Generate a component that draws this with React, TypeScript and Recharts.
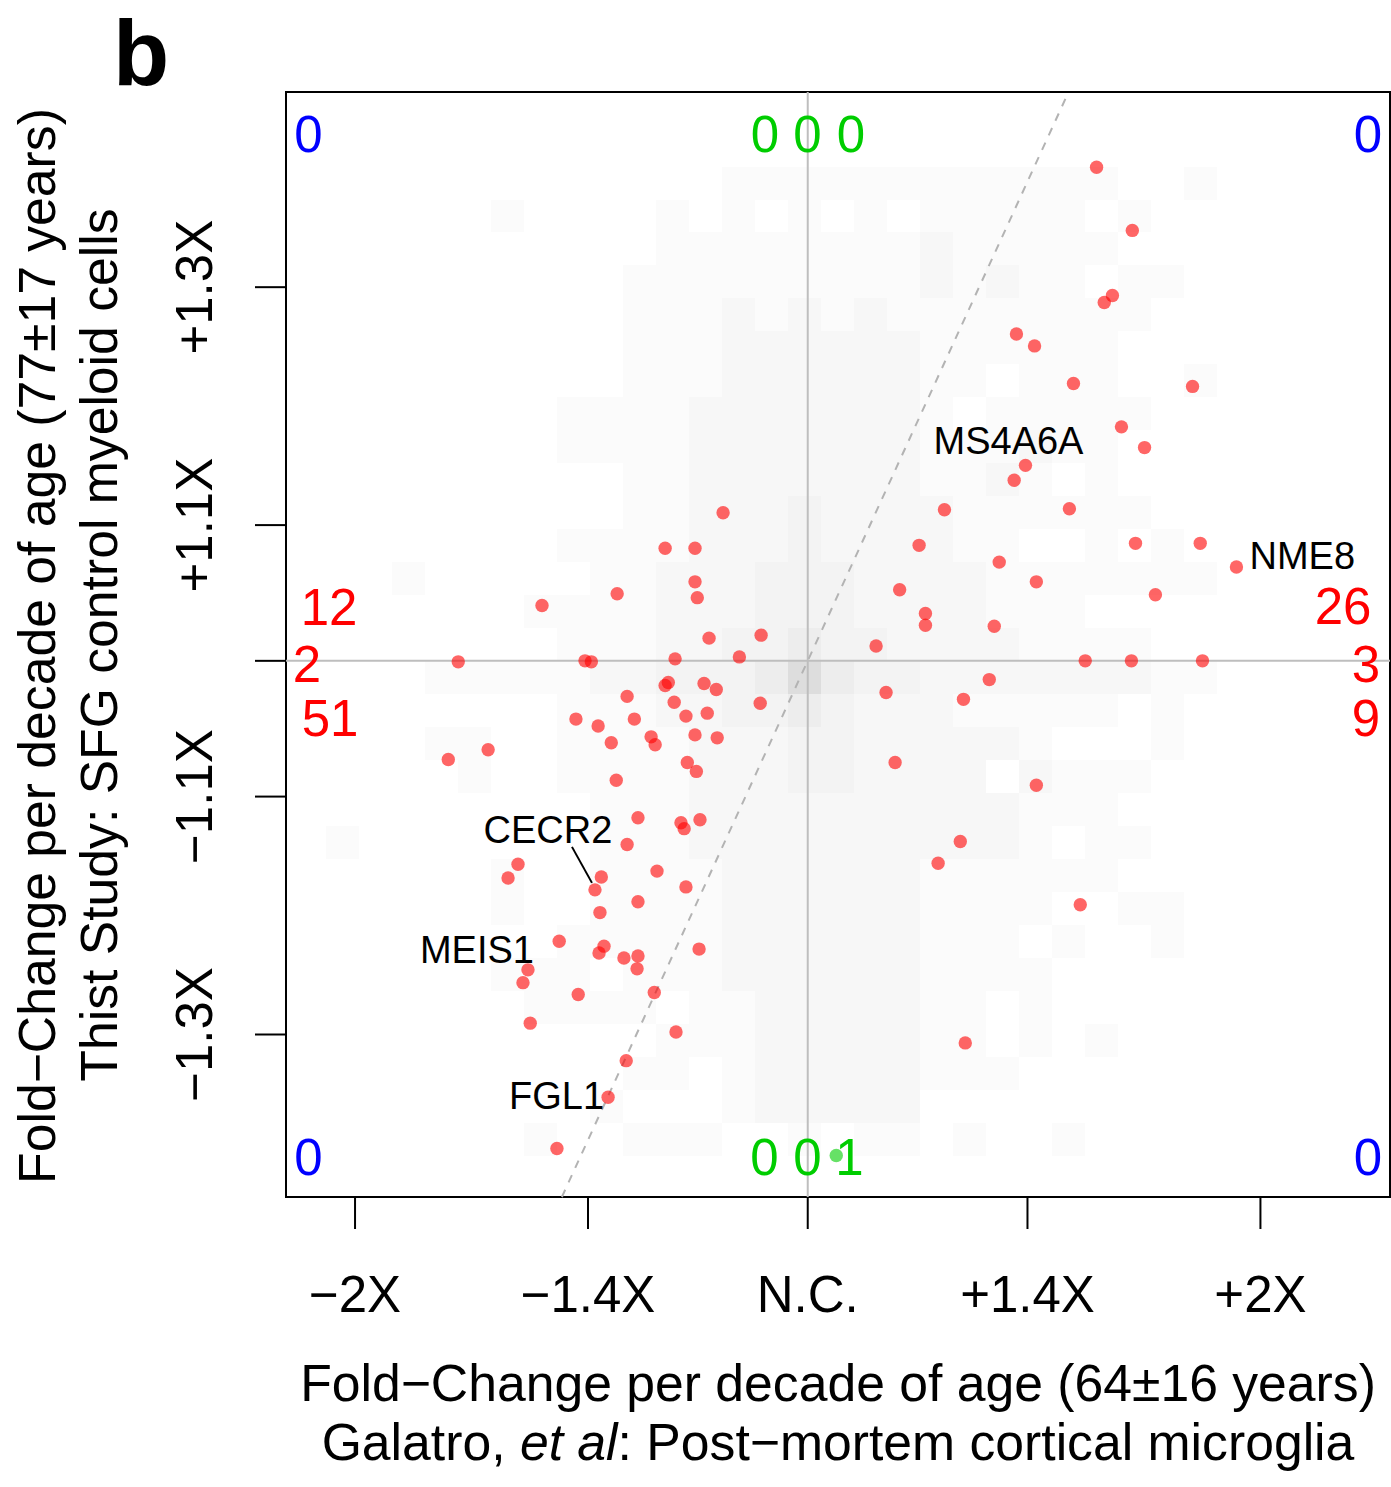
import { ScatterChart, Scatter, XAxis, YAxis, ReferenceArea, ReferenceLine } from 'recharts'

const FONT = '"Liberation Sans", Arial, Helvetica, sans-serif'

// both axes are log2 fold-change per decade of age
const X_DOMAIN: [number, number] = [-1.1525, 1.2862]
const Y_DOMAIN: [number, number] = [-0.5431, 0.5762]
const X_TICKS = [-1, -0.4854, 0, 0.4854, 1]
const X_TICK_LABELS = ['−2X', '−1.4X', 'N.C.', '+1.4X', '+2X']
const Y_TICKS = [0.3785, 0.1375, 0, -0.1375, -0.3785]
const Y_TICK_LABELS = ['+1.3X', '+1.1X', '', '−1.1X', '−1.3X']

// [Galatro et al, this study]
const UP_IN_GALATRO: [number, number][] = [
  [0.638, 0.5], [0.717, 0.436], [0.673, 0.37], [0.655, 0.363], [0.461, 0.331], [0.501, 0.319],
  [0.587, 0.281], [0.85, 0.278], [0.693, 0.237], [0.744, 0.216], [0.481, 0.198], [0.456, 0.183],
  [0.302, 0.153], [0.578, 0.154], [0.246, 0.117], [0.724, 0.119], [0.867, 0.119], [0.947, 0.095],
  [0.423, 0.1], [0.505, 0.08], [0.203, 0.072], [0.768, 0.067], [0.26, 0.048], [0.26, 0.036],
  [0.412, 0.035], [0.151, 0.015], [0.613, 0], [0.715, 0], [0.872, 0], [0.401, -0.019],
  [0.173, -0.032], [0.344, -0.039], [0.193, -0.103], [0.505, -0.126], [0.337, -0.183],
  [0.288, -0.205], [0.602, -0.247], [0.348, -0.387],
]

const DOWN_IN_GALATRO: [number, number][] = [
  [-0.187, 0.15], [-0.315, 0.114], [-0.249, 0.114], [-0.249, 0.08], [-0.244, 0.064], [-0.421, 0.068],
  [-0.587, 0.056], [-0.218, 0.023], [-0.103, 0.026], [-0.151, 0.004], [-0.293, 0.002], [-0.492, 0],
  [-0.478, -0.001], [-0.772, -0.001], [-0.308, -0.022], [-0.315, -0.025], [-0.229, -0.023],
  [-0.202, -0.029], [-0.399, -0.036], [-0.295, -0.042], [-0.105, -0.043], [-0.269, -0.056],
  [-0.222, -0.053], [-0.512, -0.059], [-0.463, -0.066], [-0.383, -0.059], [-0.249, -0.075],
  [-0.2, -0.078], [-0.434, -0.083], [-0.346, -0.077], [-0.337, -0.085], [-0.706, -0.09],
  [-0.794, -0.1], [-0.266, -0.103], [-0.246, -0.112], [-0.423, -0.121], [-0.375, -0.159],
  [-0.28, -0.164], [-0.273, -0.17], [-0.238, -0.161], [-0.399, -0.186], [-0.64, -0.206],
  [-0.333, -0.213], [-0.662, -0.22], [-0.456, -0.219], [-0.47, -0.232], [-0.269, -0.229],
  [-0.375, -0.244], [-0.459, -0.255], [-0.549, -0.284], [-0.45, -0.289], [-0.461, -0.296],
  [-0.406, -0.301], [-0.375, -0.299], [-0.377, -0.312], [-0.24, -0.292], [-0.618, -0.313],
  [-0.629, -0.326], [-0.507, -0.338], [-0.339, -0.336], [-0.613, -0.367], [-0.291, -0.376],
  [-0.401, -0.405], [-0.441, -0.442], [-0.554, -0.494],
]

const NC_IN_GALATRO: [number, number][] = [[0.063, -0.501]]

const LABELLED = [
  { gene: 'MS4A6A', x: 0.481, y: 0.198 },
  { gene: 'NME8', x: 0.947, y: 0.095 },
  { gene: 'CECR2', x: -0.47, y: -0.232 },
  { gene: 'MEIS1', x: -0.618, y: -0.313 },
  { gene: 'FGL1', x: -0.441, y: -0.442 },
]

// gene counts per region
const TOP_CORNERS = ['0', '0']
const TOP_MIDDLE = ['0', '0', '0']
const BOTTOM_CORNERS = ['0', '0']
const BOTTOM_MIDDLE = ['0', '0', '1']
const LEFT_COUNTS = ['12', '2', '51']
const RIGHT_COUNTS = ['26', '3', '9']

// background 2D histogram of all genes, shade level per bin (top row first)
const DENSITY = [
  '0000000000001111111111110010',
  '0000010000101010101111101000',
  '0000000000111111112111110000',
  '0000000001111111112121101100',
  '0000000001112121211111111000',
  '0000000001112222221111110000',
  '0000000001112222221101110010',
  '0000000111122222221011111000',
  '0000000111122222221112110000',
  '0000000001122222221121010000',
  '0000000001122232222111111000',
  '0000000111122232222110010100',
  '0010000011222333222211111110',
  '0000001111222333222211100000',
  '0000000111223343322221111000',
  '0001111122333454332222222110',
  '0000000111223343222111110100',
  '0001100111122233222221000100',
  '0000100111122233222202111000',
  '0000000011122222222221110000',
  '1000000011122222222221011000',
  '0000010011112222221111110000',
  '0000010011112222221111001100',
  '0000000111112222221110100100',
  '0000011101112222221111000000',
  '0000001111011222221101000000',
  '0000000000111222221101010000',
  '0000000001101222221110000000',
  '0000000010001222220000000000',
  '0000001001110010110100100000',
]
const BIN_X0 = -1.0641
const BIN_DX = 0.0729
const BIN_Y0 = 0.5007
const BIN_DY = 0.0334
const SHADES = ['none', '#fbfbfb', '#f7f7f7', '#f3f3f3', '#ededed', '#dddddd']

const LABEL_STYLE: Record<string, { dx: number; dy: number; anchor: 'start' | 'middle' | 'end' }> = {
  MS4A6A: { dx: -17, dy: -11, anchor: 'middle' },
  NME8: { dx: 13, dy: 2, anchor: 'start' },
  CECR2: { dx: -47, dy: -47, anchor: 'middle' },
  MEIS1: { dx: 6, dy: -7, anchor: 'end' },
  FGL1: { dx: -4, dy: 12, anchor: 'end' },
}

const toPoints = (arr: [number, number][]) => arr.map(([x, y]) => ({ x, y }))

function XTick({ x, y, payload }: any) {
  const label = X_TICK_LABELS[X_TICKS.indexOf(payload.value)]
  return (
    <text x={x} y={y + 83} textAnchor="middle" fontSize={51} fontFamily={FONT} fill="#000">
      {label}
    </text>
  )
}

function YTick({ x, y, payload }: any) {
  const label = Y_TICK_LABELS[Y_TICKS.indexOf(payload.value)]
  const bx = x - 43
  return (
    <text x={bx} y={y} transform={`rotate(-90 ${bx} ${y})`} textAnchor="middle" fontSize={51} fontFamily={FONT} fill="#000">
      {label}
    </text>
  )
}

const dot = (color: string) => (p: any) => <circle cx={p.cx} cy={p.cy} r={6.7} fill={color} fillOpacity={0.6} />

function GeneLabel(p: any) {
  const s = LABEL_STYLE[p.payload.gene]
  return (
    <g>
      {p.payload.gene === 'CECR2' && (
        <line x1={p.cx - 23} y1={p.cy - 43} x2={p.cx - 3} y2={p.cy - 7} stroke="#000" strokeWidth={2} />
      )}
      <text x={p.cx + s.dx} y={p.cy + s.dy} textAnchor={s.anchor} fontSize={38} fontFamily={FONT} fill="#000">
        {p.payload.gene}
      </text>
    </g>
  )
}

export default function App() {
  const cells: any[] = []
  DENSITY.forEach((row, j) => {
    row.split('').forEach((ch, i) => {
      const lvl = Number(ch)
      if (!lvl) return
      const x1 = BIN_X0 + i * BIN_DX
      const y2 = BIN_Y0 - j * BIN_DY
      cells.push(
        <ReferenceArea
          key={`c${j}-${i}`}
          x1={x1}
          x2={x1 + BIN_DX}
          y1={y2 - BIN_DY}
          y2={y2}
          fill={SHADES[lvl]}
          fillOpacity={1}
          stroke="none"
          shapeRendering="crispEdges"
          ifOverflow="hidden"
        />,
      )
    })
  })

  const txt = { fontFamily: FONT, fontSize: 51 }
  const title = { fontFamily: FONT, fontSize: 51.7 }

  return (
    <div style={{ position: 'absolute', left: 0, top: 0, width: 1391, height: 1487, background: '#fff' }}>
      <ScatterChart width={1391} height={1487} margin={{ top: 92, right: 1, bottom: 0, left: 0 }}>
        <XAxis
          type="number"
          dataKey="x"
          domain={X_DOMAIN}
          ticks={X_TICKS}
          allowDataOverflow
          height={290}
          tickSize={32}
          tickMargin={0}
          axisLine={false}
          tickLine={{ stroke: '#000', strokeWidth: 2 }}
          tick={<XTick />}
          interval={0}
        />
        <YAxis
          type="number"
          dataKey="y"
          domain={Y_DOMAIN}
          ticks={Y_TICKS}
          allowDataOverflow
          width={286}
          tickSize={31}
          tickMargin={0}
          axisLine={false}
          tickLine={{ stroke: '#000', strokeWidth: 2 }}
          tick={<YTick />}
          interval={0}
        />
        {cells}
        <ReferenceLine x={0} stroke="#bebebe" strokeWidth={2} />
        <ReferenceLine y={0} stroke="#bebebe" strokeWidth={2} />
        <ReferenceLine
          segment={[{ x: Y_DOMAIN[0], y: Y_DOMAIN[0] }, { x: Y_DOMAIN[1], y: Y_DOMAIN[1] }]}
          stroke="#b3b3b3"
          strokeWidth={2}
          strokeDasharray="8 8"
          ifOverflow="visible"
        />
        <Scatter data={toPoints(UP_IN_GALATRO)} shape={dot('#ff0000')} isAnimationActive={false} />
        <Scatter data={toPoints(DOWN_IN_GALATRO)} shape={dot('#ff0000')} isAnimationActive={false} />
        <Scatter data={toPoints(NC_IN_GALATRO)} shape={dot('#00cd00')} isAnimationActive={false} />
        <Scatter data={LABELLED} shape={GeneLabel} isAnimationActive={false} />
        <ReferenceArea
          x1={X_DOMAIN[0]}
          x2={X_DOMAIN[1]}
          y1={Y_DOMAIN[0]}
          y2={Y_DOMAIN[1]}
          fill="none"
          stroke="#000"
          strokeWidth={2}
          ifOverflow="visible"
        />
      </ScatterChart>

      <svg width={1391} height={1487} style={{ position: 'absolute', left: 0, top: 0, pointerEvents: 'none' }}>
        <text x={113} y={85} fontFamily={FONT} fontSize={92} fontWeight="bold">b</text>

        {/* region counts */}
        <text {...txt} x={308.5} y={152} textAnchor="middle" fill="#0000ff">{TOP_CORNERS[0]}</text>
        <text {...txt} x={1368} y={152} textAnchor="middle" fill="#0000ff">{TOP_CORNERS[1]}</text>
        {TOP_MIDDLE.map((c, i) => (
          <text key={`tm${i}`} {...txt} x={[765, 807.5, 851][i]} y={152} textAnchor="middle" fill="#00cd00">{c}</text>
        ))}
        <text {...txt} x={308.5} y={1175} textAnchor="middle" fill="#0000ff">{BOTTOM_CORNERS[0]}</text>
        <text {...txt} x={1368} y={1175} textAnchor="middle" fill="#0000ff">{BOTTOM_CORNERS[1]}</text>
        {BOTTOM_MIDDLE.map((c, i) => (
          <text key={`bm${i}`} {...txt} x={[764.5, 807.5, 849.5][i]} y={1175} textAnchor="middle" fill="#00cd00">{c}</text>
        ))}
        {LEFT_COUNTS.map((c, i) => (
          <text key={`l${i}`} {...txt} x={[329, 307, 330][i]} y={[625, 682, 736][i]} textAnchor="middle" fill="#ff0000">{c}</text>
        ))}
        {RIGHT_COUNTS.map((c, i) => (
          <text key={`r${i}`} {...txt} x={[1343, 1366, 1366][i]} y={[624, 682, 736][i]} textAnchor="middle" fill="#ff0000">{c}</text>
        ))}

        {/* axis titles */}
        <text {...title} x={838} y={1401} textAnchor="middle">Fold−Change per decade of age (64±16 years)</text>
        <text {...title} x={838} y={1460} textAnchor="middle">
          Galatro, <tspan fontStyle="italic">et al</tspan>: Post−mortem cortical microglia
        </text>
        <text {...title} x={55} y={646} transform="rotate(-90 55 646)" textAnchor="middle">
          Fold−Change per decade of age (77±17 years)
        </text>
        <text {...title} x={117} y={645} transform="rotate(-90 117 645)" textAnchor="middle">
          Thist Study: SFG control myeloid cells
        </text>
      </svg>
    </div>
  )
}
